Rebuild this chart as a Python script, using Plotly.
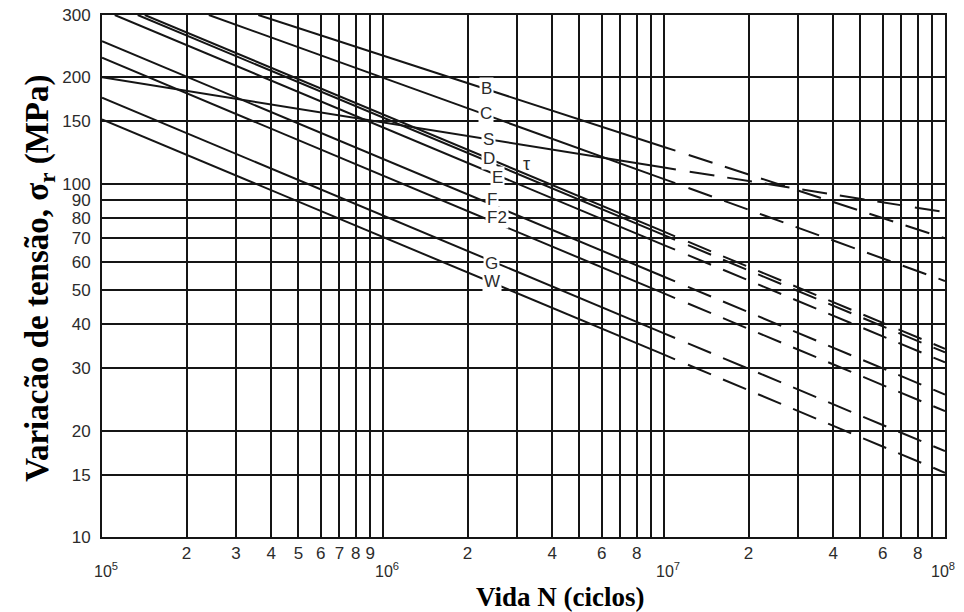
import numpy as np
import plotly.graph_objects as go

# ---------------- data ----------------
classes = ["B", "C", "S", "D", "τ", "E", "F", "F2", "G", "W"]
n_start = [3.6e5, 2.4e5, 1e5, 1.42e5, 1.34e5, 1.11e5, 1e5, 1e5, 1e5, 1e5]
s_start = [300, 300, 200, 300, 300, 300, 253, 227, 175, 152]
n_knee = [1e7] * 10
s_knee = [127, 103, 111, 73.1, 71.5, 67.0, 54.5, 48.9, 37.7, 32.8]
n_end = [1e8] * 10
s_end = [70, 53, 83, 34.1, 33.3, 31.2, 25.3, 22.7, 17.5, 15.2]

label_text = ["B", "C", "S", "D", "E", "F", "F2", "G", "W"]
label_n = [2.34e6, 2.33e6, 2.37e6, 2.38e6, 2.55e6, 2.44e6, 2.55e6, 2.44e6, 2.44e6]
label_s = [186, 158, 133, 118, 104, 90, 80, 59.6, 52.7]
tau_text = "τ"
tau_n, tau_s = 3.25e6, 114

y_ticks = [10, 15, 20, 30, 40, 50, 60, 70, 80, 90, 100, 150, 200, 300]
x_grid = [m * 10 ** e for e in (5, 6, 7) for m in range(1, 10)] + [1e8]
x_digit_vals = [2e5, 3e5, 4e5, 5e5, 6e5, 7e5, 8e5, 9e5,
                2e6, 4e6, 6e6, 8e6, 2e7, 4e7, 6e7, 8e7]
x_digit_text = ["2", "3", "4", "5", "6", "7", "8", "9",
                "2", "4", "6", "8", "2", "4", "6", "8"]
x_decades = [1e5, 1e6, 1e7, 1e8]
x_decade_text = ["10<sup>5</sup>", "10<sup>6</sup>", "10<sup>7</sup>", "10<sup>8</sup>"]

x_title = "Vida N (ciclos)"
y_title = "Variacão de tensão, σ<sub>r</sub> (MPa)"

# ---------------- figure ----------------
INK = "#151515"
TXT = "#2b2b2b"
SANS = "Liberation Sans, Arial, sans-serif"
SERIF = "Liberation Serif, Times New Roman, serif"
dash_pat = "12px,14px," + ",".join(["25px,13px"] * 10)

fig = go.Figure()
for i, c in enumerate(classes):
    fig.add_trace(go.Scatter(x=[n_start[i], n_knee[i]], y=[s_start[i], s_knee[i]],
                             mode="lines", line=dict(color=INK, width=2),
                             hoverinfo="skip", showlegend=False, name=c))
    fig.add_trace(go.Scatter(x=[n_knee[i], n_end[i]], y=[s_knee[i], s_end[i]],
                             mode="lines", line=dict(color=INK, width=2, dash=dash_pat),
                             hoverinfo="skip", showlegend=False, name=c + " ext"))

fig.update_xaxes(type="log", range=[5, 8], tickvals=x_digit_vals, ticktext=x_digit_text,
                 showgrid=True, gridcolor=INK, gridwidth=1.6, automargin=False,
                 minor=dict(tickvals=x_grid, showgrid=True, gridcolor=INK, gridwidth=1.6, ticks=""),
                 showline=True, linecolor=INK, linewidth=2, mirror=True,
                 ticks="", ticklabelstandoff=0, zeroline=False, ticklabeloverflow="allow",
                 tickfont=dict(family=SANS, size=17, color=TXT))
fig.update_yaxes(type="log", range=[1, np.log10(300) + 1e-6], tickvals=y_ticks,
                 ticktext=[str(v) for v in y_ticks], automargin=False,
                 showgrid=True, gridcolor=INK, gridwidth=1.6,
                 showline=True, linecolor=INK, linewidth=2, mirror=True,
                 ticks="", ticklabelstandoff=6, zeroline=False, ticklabeloverflow="allow",
                 tickfont=dict(family=SANS, size=17, color=TXT))

annotations = []
for t, n, s in zip(label_text, label_n, label_s):
    annotations.append(dict(x=np.log10(n), y=np.log10(s), xref="x", yref="y",
                            text=t, showarrow=False, bgcolor="white", borderpad=1,
                            font=dict(family=SANS, size=17, color=TXT)))
annotations.append(dict(x=np.log10(tau_n), y=np.log10(tau_s), xref="x", yref="y",
                        text=tau_text, showarrow=False,
                        font=dict(family=SANS, size=18, color=TXT)))
for k, (v, t) in enumerate(zip(x_decades, x_decade_text)):
    annotations.append(dict(x=np.log10(v), y=-0.063, xref="x", yref="paper",
                            text=t, showarrow=False,
                            xshift=(4 if k < len(x_decades) - 1 else -2), yanchor="middle",
                            font=dict(family=SANS, size=16, color=TXT)))
annotations.append(dict(x=0.543, y=-0.115, xref="paper", yref="paper", text=x_title,
                        showarrow=False, yanchor="middle", xanchor="center",
                        font=dict(family=SERIF, size=27, color="black", weight="bold")))
annotations.append(dict(x=-0.075, y=0.496, xref="paper", yref="paper", text=y_title,
                        showarrow=False, textangle=-90, yanchor="middle", xanchor="center",
                        font=dict(family=SERIF, size=33, color="black", weight="bold")))

# page body adds an 8px offset; figure sized so the plot area lands where the reference has it
fig.update_layout(width=956, height=604, margin=dict(l=94, r=19, t=7, b=75, autoexpand=False),
                  plot_bgcolor="white", paper_bgcolor="white",
                  annotations=annotations, showlegend=False)

fig.write_html("out.html")
